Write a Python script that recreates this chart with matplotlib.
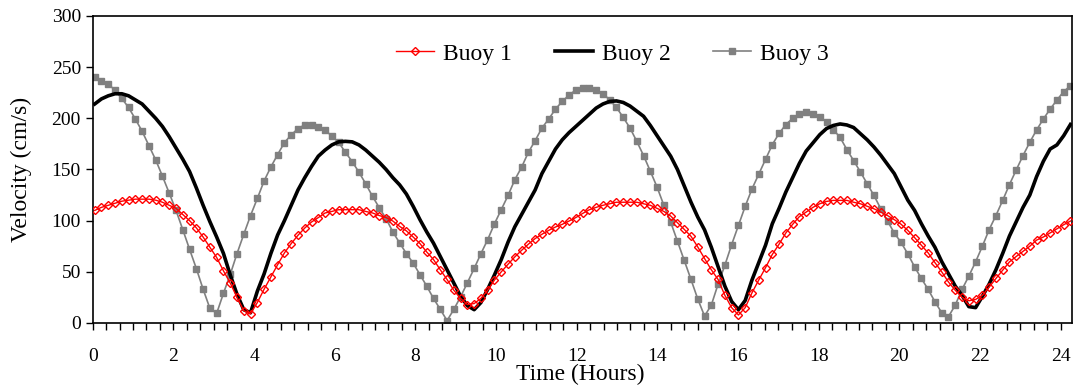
import numpy as np
import matplotlib
matplotlib.use("Agg")
import matplotlib.pyplot as plt
from matplotlib.ticker import MultipleLocator

#-- Data (10 minute samples).

buoy1 = [110, 113, 115, 117, 119, 120, 121, 121, 121, 120, 118, 115,
         112, 106, 100, 93, 84, 74, 64, 51, 39, 25, 12, 9,
         20, 33, 45, 57, 68.5, 77.6, 85.7, 92.8, 98.7, 103, 107.5, 109,
         110.7, 110.7, 110.7, 110.7, 109, 107.5, 105, 103, 99.6, 94.4, 90, 84,
         77.6, 69.4, 62, 52, 42.5, 32, 24, 18, 19, 24, 32, 42,
         50, 57.4, 64.6, 71, 77, 82.5, 86.7, 90.5, 93.8, 96.4, 99.6, 103,
         107, 110.7, 113, 115, 116.5, 118, 118, 118, 118, 116.5, 115, 112,
         109, 104.5, 98, 91.5, 84.7, 74.3, 63, 52, 42.5, 27, 15, 7.8,
         15, 29.5, 42, 54, 67, 77, 88, 96.4, 104, 108.4, 113, 116.5,
         118.8, 119.8, 119.8, 119.8, 118, 116.5, 114, 111.6, 108.4, 105, 101, 96.5,
         90.5, 83.4, 76, 68.5, 59, 50, 40, 32, 25, 21.7, 23, 27,
         35, 43.5, 51.6, 59.7, 65, 70, 75, 81, 84, 88, 92, 96, 99.6]

buoy2 = [214, 219, 222, 224, 224, 222, 218, 214, 207, 200, 192, 182,
         171, 160, 148, 132, 115, 99, 84, 68, 47, 28, 13, 10,
         31, 48, 68, 86, 100, 115, 130, 142, 153, 163, 169, 174,
         177, 177.5, 177, 174, 169, 163, 157, 150, 142, 135, 126, 114,
         101, 89, 78, 65, 52, 39, 26, 17, 13, 20, 33, 47,
         62, 79, 94, 106, 118, 130, 146, 158, 170, 179, 186, 192,
         198, 204, 210, 214, 216.5, 217, 215.5, 212, 207, 202, 193, 183,
         173, 163, 150, 134, 118, 103.5, 91, 74, 55, 36, 21, 13,
         22, 42, 59, 76, 97, 112, 128, 142, 156, 168, 176, 184,
         190, 193, 194.5, 193.5, 191, 185, 179, 172, 164, 155, 146, 133,
         120, 110, 97, 85, 74, 60, 48, 36, 27, 16, 15, 26,
         38, 52, 68, 85, 99, 113, 125, 143, 158, 170, 174, 183, 194]

buoy3 = [240, 236.6, 233.4, 227.5, 219.4, 210.6, 199.3, 187.3, 173.3, 159.4, 143.4, 126.9,
         110, 91.2, 72, 53.2, 33, 14.3, 9.4, 29, 47.4, 67.8, 86.7, 105,
         121.7, 138.8, 152.5, 164.6, 176.3, 183.8, 190, 193.6, 193.6, 191.8, 188.6, 182.5,
         176.5, 166.8, 157.7, 147.3, 136, 123.7, 112.6, 102, 89, 78.2, 67.8, 58.5,
         47.2, 36, 24, 13.3, 2.3, 13.3, 25.6, 39.3, 53.3, 67.8, 81.5, 97,
         110.7, 124.6, 140, 152.2, 166.8, 178.2, 190.5, 199.3, 209, 216.5, 222.7, 227.7,
         230, 230, 227.8, 224.2, 218, 210.6, 200.9, 190.5, 177.5, 163.6, 148.3, 132.7,
         114.9, 98.6, 80, 61.3, 42.5, 23.4, 6.8, 17.5, 38, 56.5, 76.6, 95.4,
         114, 131, 145.5, 160, 174.3, 185.3, 193.9, 200, 204.5, 206, 204.5, 201.5,
         196.8, 189, 181.4, 169.5, 158.7, 147.6, 136, 124.6, 111.7, 99.6, 88, 78.7,
         67.5, 54.8, 43.5, 32.8, 20.8, 10, 6.2, 17.5, 32.8, 45.8, 59.7, 75,
         91.2, 105, 119.8, 135.3, 149.6, 163.6, 176.6, 188.6, 199.3, 209, 217.8, 226.2, 231.7]

labels = ["Buoy 1", "Buoy 2", "Buoy 3"]

# sample times in hours
t0 = 0.05
dt = 0.168
times = t0 + dt * np.arange(len(buoy1))

#-- Plot.

plt.rcParams['font.family'] = ['Liberation Serif', 'DejaVu Serif']

fig = plt.figure(figsize=(10.79, 3.89), dpi=100)
ax = fig.add_axes([0.0859, 0.1697, 0.9076, 0.7892])

ax.plot(times, buoy3, color='#808080', lw=1.2, marker='s', ms=4.5,
        mfc='#808080', mec='#808080', label=labels[2], zorder=2)
ax.plot(times, buoy2, color='black', lw=2.6, label=labels[1], zorder=3)
ax.plot(times, buoy1, color='red', lw=1.0, marker='D', ms=3.6,
        mfc='none', mec='red', mew=1.0, label=labels[0], zorder=4)

ax.set_xlim(0, 24.28)
ax.set_ylim(0, 300)
ax.xaxis.set_major_locator(MultipleLocator(2))
ax.xaxis.set_minor_locator(MultipleLocator(1/3))
ax.yaxis.set_major_locator(MultipleLocator(50))

ax.tick_params(axis='both', which='both', direction='out', length=5, width=1,
               labelsize=14)
ax.tick_params(axis='x', pad=13)
for s in ax.spines.values():
    s.set_linewidth(1.2)

ax.set_xlabel('Time (Hours)', fontsize=17)
ax.xaxis.set_label_coords(0.4976, -0.132)
ax.set_ylabel('Velocity (cm/s)', fontsize=17, labelpad=14)

h, l = ax.get_legend_handles_labels()
order = [2, 1, 0]
ax.legend([h[i] for i in order], [l[i] for i in order], loc='center',
          bbox_to_anchor=(0.531, 0.877), ncol=3, frameon=False, fontsize=17,
          handlelength=1.6, columnspacing=1.8, handletextpad=0.4)

plt.savefig('out.png', dpi=100)
